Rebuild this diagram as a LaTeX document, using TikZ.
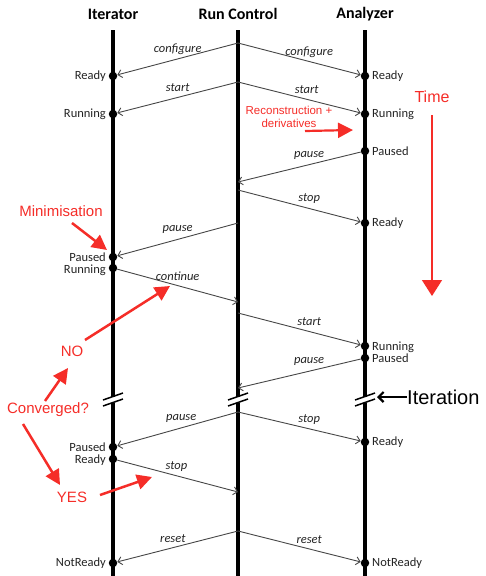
\documentclass[tikz,border=0pt]{standalone}
\usepackage{fontspec}
\setmainfont{Carlito}
\newfontfamily\annfont{Liberation Sans}
\usetikzlibrary{arrows.meta}
\definecolor{annot}{RGB}{245,45,40}
\definecolor{msgc}{RGB}{70,70,70}
\definecolor{txtc}{RGB}{35,35,35}
\begin{document}
\begin{tikzpicture}[x=1pt,y=-1pt,
  lifeline/.style={line width=3.4pt,black},
  msg/.style={draw=msgc,line width=0.9pt,-{Straight Barb[length=4pt,width=8pt]}},
  lbl/.style={font=\fontsize{12.5}{13}\selectfont\itshape,text=txtc,yshift=9.5pt,inner sep=0},
  dot/.style={circle,fill=black,inner sep=0,minimum size=8.5pt},
  stl/.style={font=\fontsize{12.5}{13}\selectfont,text=txtc,inner sep=0,anchor=east},
  str/.style={font=\fontsize{12.5}{13}\selectfont,text=txtc,inner sep=0,anchor=west},
  title/.style={font=\fontsize{16}{18}\selectfont\bfseries,inner sep=0},
  ann/.style={text=annot,font=\annfont\fontsize{15}{17}\selectfont,inner sep=0},
  annarrow/.style={draw=annot,line width=2.5pt,-{Triangle[length=15pt,width=15pt]}},
  brk/.style={line width=1.5pt}
]
\useasboundingbox (0,0) rectangle (485,576);
% titles
\node[title] (tI) at (113,14) {Iterator};
\node[title] (tR) at (238,14) {Run Control};
\node[title] (tA) at (365,14) {Analyzer};
% lifelines with break
\foreach \x in {113,238,365}{
  \draw[lifeline] (\x,30) -- (\x,396.5);
  \draw[lifeline] (\x,403) -- (\x,576);
  \draw[brk] (\x-10,400) -- (\x+10,393);
  \draw[brk] (\x-10,406) -- (\x+10,399);
}
% Run control points
\foreach \n/\y in {r1/43,r2/82,r3/182,r4/190,r5/223,r6/302,r7/313,r8/388,r9/412,r10/492,r11/531}
  \coordinate (\n) at (238,\y);
% Iterator states
\node[dot] (i1) at (113,76) {};  \node[stl] at (106,76) {Ready};
\node[dot] (i2) at (113,114) {}; \node[stl] at (106,114) {Running};
\node[dot] (i3) at (113,257) {}; \node[stl] at (106,257) {Paused};
\node[dot] (i4) at (113,268) {}; \node[stl] at (106,270) {Running};
\node[dot] (i5) at (113,447) {}; \node[stl] at (106,447) {Paused};
\node[dot] (i6) at (113,459) {}; \node[stl] at (106,460) {Ready};
\node[dot] (i7) at (113,563) {}; \node[stl] at (106,563) {NotReady};
% Analyzer states
\node[dot] (a1) at (365,76) {};  \node[str] at (372,76) {Ready};
\node[dot] (a2) at (365,114) {}; \node[str] at (372,114) {Running};
\node[dot] (a3) at (365,151) {}; \node[str] at (372,151) {Paused};
\node[dot] (a4) at (365,223) {}; \node[str] at (372,223) {Ready};
\node[dot] (a5) at (365,346) {}; \node[str] at (372,347) {Running};
\node[dot] (a6) at (365,358) {}; \node[str] at (372,358) {Paused};
\node[dot] (a7) at (365,442) {}; \node[str] at (372,442) {Ready};
\node[dot] (a8) at (365,563) {}; \node[str] at (372,563) {NotReady};
% messages
\draw[msg] (r1) -- node[lbl,pos=0.5]{configure} (i1);
\draw[msg] (r1) -- node[lbl,pos=0.58]{configure} (a1);
\draw[msg] (r2) -- node[lbl,pos=0.5]{start} (i2);
\draw[msg] (r2) -- node[lbl,pos=0.56]{start} (a2);
\draw[msg] (a3) -- node[lbl,pos=0.42]{pause} (r3);
\draw[msg] (r4) -- node[lbl,pos=0.58]{stop} (a4);
\draw[msg] (r5) -- node[lbl,pos=0.5]{pause} (i3);
\draw[msg] (i4) -- node[lbl,pos=0.5]{continue} (r6);
\draw[msg] (r7) -- node[lbl,pos=0.58]{start} (a5);
\draw[msg] (a6) -- node[lbl,pos=0.42]{pause} (r8);
\draw[msg] (r9) -- node[lbl,pos=0.47]{pause} (i5);
\draw[msg] (r9) -- node[lbl,pos=0.58]{stop} (a7);
\draw[msg] (i6) -- node[lbl,pos=0.49]{stop} (r10);
\draw[msg] (r11) -- node[lbl,pos=0.54]{reset} (i7);
\draw[msg] (r11) -- node[lbl,pos=0.58]{reset} (a8);
% Iteration
\node[font=\annfont\fontsize{20}{22}\selectfont,inner sep=0,anchor=west] (iter) at (407,397) {Iteration};
\coordinate (iterTip) at (377,397);
\draw[line width=2.2pt,-{Straight Barb[length=5pt,width=10pt]}] (iter.west) -- (iterTip);
% Time
\node[ann,font=\annfont\fontsize{16}{18}\selectfont] (time) at (432,97) {Time};
\coordinate (timeEnd) at (432,296);
\draw[draw=annot,line width=1.4pt,-{Triangle[length=16pt,width=20pt]}] (432,115) -- (timeEnd);
% Reconstruction
\node[ann,font=\annfont\fontsize{11.5}{13}\selectfont,align=center] (reco) at (289,117) {Reconstruction +\\derivatives};
\coordinate (recoA) at (305,131);
\coordinate (recoB) at (353,130);
\draw[draw=annot,line width=2.2pt,-{Triangle[length=15pt,width=15pt]}] (recoA) -- (recoB);
% Minimisation
\node[ann] (mini) at (61,211) {Minimisation};
\coordinate (miniA) at (72,223);
\coordinate (miniB) at (107,250);
\draw[annarrow] (miniA) -- (miniB);
% NO
\node[ann] (no) at (72,351) {NO};
\coordinate (noA) at (85,340);
\coordinate (noB) at (170,286);
\draw[annarrow] (noA) -- (noB);
% Converged
\node[ann] (conv) at (48,410) {Converged?};
\coordinate (convA) at (45,401);
\coordinate (convB) at (68,368);
\draw[annarrow] (convA) -- (convB);
\coordinate (convC) at (23,424);
\coordinate (convD) at (60,485);
\draw[annarrow] (convC) -- (convD);
% YES
\node[ann] (yes) at (72,497) {YES};
\coordinate (yesA) at (100,495);
\coordinate (yesB) at (152,477);
\draw[annarrow] (yesA) -- (yesB);
\end{tikzpicture}
\end{document}
